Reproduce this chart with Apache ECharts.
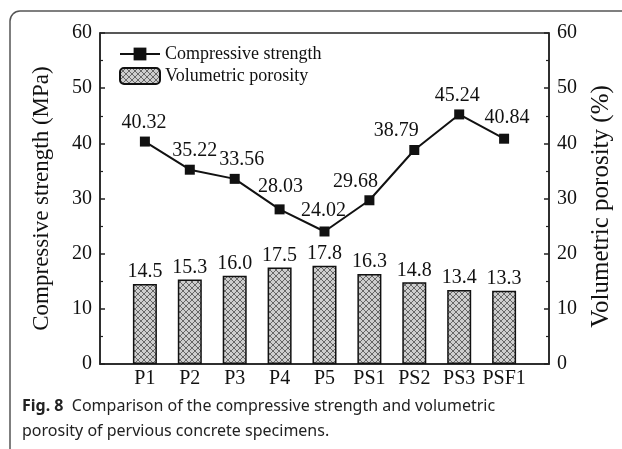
<!DOCTYPE html>
<html>
<head>
<meta charset="utf-8">
<script src="https://cdn.jsdelivr.net/npm/echarts@6/dist/echarts.min.js"></script>
<style>
html,body{margin:0;padding:0;background:#fff;}
#c{width:622px;height:449px;}
</style>
</head>
<body>
<div id="c"></div>
<script>
const categories = ['P1','P2','P3','P4','P5','PS1','PS2','PS3','PSF1'];
const strength = [40.32, 35.22, 33.56, 28.03, 24.02, 29.68, 38.79, 45.24, 40.84];
const porosity = [14.5, 15.3, 16.0, 17.5, 17.8, 16.3, 14.8, 13.4, 13.3];
const yTicks = [0, 10, 20, 30, 40, 50, 60];

// label nudges (styling only)
const lineLabelOffsets = [[-1,0],[5,0],[7,0],[1,-4],[-1,-2],[-14,0],[-18,0],[-2,0],[3,-2]];

const serif = 'Liberation Serif';
const pc = document.createElement('canvas');
pc.width = 6; pc.height = 6;
const g = pc.getContext('2d');
g.fillStyle = '#cdcdcd'; g.fillRect(0,0,6,6);
g.strokeStyle = '#666'; g.lineWidth = 1;
g.beginPath(); g.moveTo(0,0); g.lineTo(6,6); g.moveTo(6,0); g.lineTo(0,6); g.stroke();

const axisData = [''].concat(categories, ['']);
const lineData = [null].concat(strength.map((v,i)=>({value:v, label:{offset:lineLabelOffsets[i]}})), [null]);
const barData = [null].concat(porosity, [null]);

const chart = echarts.init(document.getElementById('c'), null, {renderer:'canvas'});
const yCommon = {
  type:'value', min:yTicks[0], max:yTicks[yTicks.length-1], interval:10,
  nameLocation:'middle', nameRotate:90,
  axisLine:{show:true, lineStyle:{color:'#222', width:1.5}},
  axisTick:{show:true, inside:true, length:5, lineStyle:{color:'#222', width:1.5}},
  minorTick:{show:true, splitNumber:2, length:3, lineStyle:{color:'#222', width:1.2}},
  splitLine:{show:false},
  axisLabel:{fontFamily:serif, fontSize:20, color:'#111', margin:8}
};
chart.setOption({
  animation:false,
  backgroundColor:'#fff',
  grid:{left:100, right:72, top:33, bottom:85, show:true, borderColor:'#222', borderWidth:1.5, backgroundColor:'transparent'},
  legend:{
    orient:'vertical', left:114, top:40, itemWidth:40, itemHeight:16, itemGap:4,
    textStyle:{fontFamily:serif, fontSize:18, color:'#111'},
    data:['Compressive strength','Volumetric porosity']
  },
  xAxis:{
    type:'category', data:axisData, boundaryGap:false,
    axisLine:{lineStyle:{color:'#222', width:1.5}},
    axisTick:{show:false},
    axisLabel:{fontFamily:serif, fontSize:20, color:'#111', margin:5, interval:0}
  },
  yAxis:[
    Object.assign({}, yCommon, {position:'left', name:'Compressive strength (MPa)', nameGap:47,
      nameTextStyle:{fontFamily:serif, fontSize:23, color:'#111'}}),
    Object.assign({}, yCommon, {position:'right', name:'Volumetric porosity (%)', nameGap:40,
      nameTextStyle:{fontFamily:serif, fontSize:25, color:'#111', padding:[0,16,0,0]}})
  ],
  series:[
    {
      name:'Volumetric porosity', type:'bar', yAxisIndex:1, data:barData, barWidth:24,
      itemStyle:{color:{image:pc, repeat:'repeat'}, borderColor:'#111', borderWidth:1.5},
      label:{show:true, position:'top', distance:2, fontFamily:serif, fontSize:20, color:'#111',
        formatter:p=>p.value==null?'':Number(p.value).toFixed(1)},
      z:2
    },
    {
      name:'Compressive strength', type:'line', yAxisIndex:0, data:lineData,
      symbol:'rect', symbolSize:10, connectNulls:false,
      lineStyle:{color:'#111', width:2}, itemStyle:{color:'#111'},
      label:{show:true, position:'top', distance:4, fontFamily:serif, fontSize:20, color:'#111',
        formatter:p=>p.value==null?'':Number(p.value).toFixed(2)},
      z:3
    }
  ],
  graphic:[
    {type:'rect', shape:{x:10, y:11, width:700, height:600, r:[10,0,0,0]},
      style:{fill:'none', stroke:'#555', lineWidth:1.5}, silent:true},
    {type:'text', left:22, top:394,
      style:{text:'{b|Fig. 8}  Comparison of the compressive strength and volumetric\nporosity of pervious concrete specimens.',
        font:'16px "Noto Sans"', fill:'#222', lineHeight:25,
        rich:{b:{fontFamily:'Noto Sans', fontWeight:'bold', fontSize:16, fill:'#222'}}}}
  ]
});
</script>
</body>
</html>
